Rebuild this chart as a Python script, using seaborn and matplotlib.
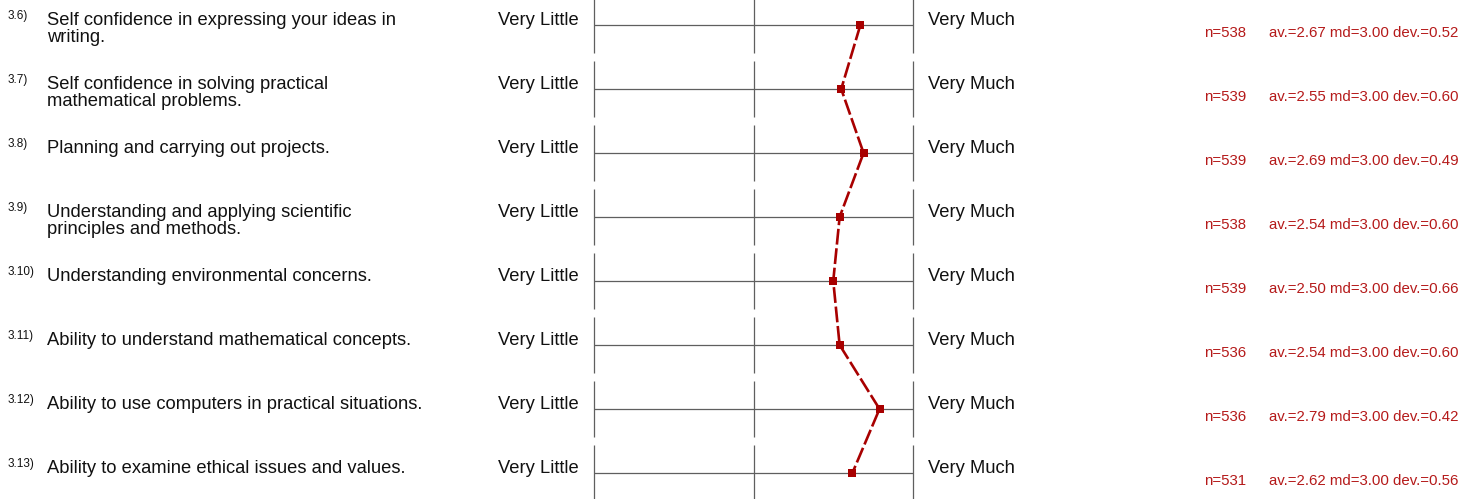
import numpy as np
import pandas as pd
import matplotlib
matplotlib.use("Agg")
import matplotlib.pyplot as plt
import matplotlib.transforms as mtransforms
import seaborn as sns

# survey items (profile line)
item_nums = ["3.6)", "3.7)", "3.8)", "3.9)", "3.10)", "3.11)", "3.12)", "3.13)"]
item_texts = [
    "Self confidence in expressing your ideas in\nwriting.",
    "Self confidence in solving practical\nmathematical problems.",
    "Planning and carrying out projects.",
    "Understanding and applying scientific\nprinciples and methods.",
    "Understanding environmental concerns.",
    "Ability to understand mathematical concepts.",
    "Ability to use computers in practical situations.",
    "Ability to examine ethical issues and values.",
]
n_resp = [538, 539, 539, 538, 539, 536, 536, 531]
averages = [2.67, 2.55, 2.69, 2.54, 2.50, 2.54, 2.79, 2.62]
medians = [3.00, 3.00, 3.00, 3.00, 3.00, 3.00, 3.00, 3.00]
devs = [0.52, 0.60, 0.49, 0.60, 0.66, 0.60, 0.42, 0.56]
left_pole = "Very Little"
right_pole = "Very Much"
scale_pts = [1, 2, 3]

df = pd.DataFrame({"row": np.arange(len(averages)), "av": averages})

sns.set_style("white")
plt.rcParams["font.family"] = ["Liberation Sans", "DejaVu Sans"]

W, H = 1474, 499
fig = plt.figure(figsize=(W / 100, H / 100), dpi=100)
# axes spans only the scale area (x = 1..3), full height
ax = fig.add_axes([594 / W, 0, (913 - 594) / W, 1])

grey = "#5f5f5f"
red = "#a80000"
txt_red = "#b51a1a"

for i in df["row"]:
    ax.hlines(i, scale_pts[0], scale_pts[-1], color=grey, lw=0.9, clip_on=False)
    ax.vlines(scale_pts, i - 0.43, i + 0.43, color=grey, lw=0.9, clip_on=False)

sns.lineplot(data=df, x="av", y="row", sort=False, estimator=None, ax=ax,
             color=red, lw=1.9, marker="s", markersize=6, markeredgewidth=0,
             clip_on=False)
for ln in ax.get_lines():
    ln.set_dashes((6, 1.4))

ax.set_xlim(scale_pts[0], scale_pts[-1])
ax.set_ylim((H - 25) / 64, -25 / 64)
ax.axis("off")

tr = mtransforms.blended_transform_factory(fig.transFigure, ax.transData)
for i in range(len(item_texts)):
    ax.text(8 / W, i - 0.23, item_nums[i], transform=tr, fontsize=8.5,
            va="top", ha="left", color="#111111")
    ax.text(47 / W, i - 0.21, item_texts[i], transform=tr, fontsize=13.2,
            va="top", ha="left", linespacing=1.05, color="#111111")
    ax.text(579 / W, i - 0.21, left_pole, transform=tr, fontsize=13.2,
            va="top", ha="right", color="#111111")
    ax.text(928 / W, i - 0.21, right_pole, transform=tr, fontsize=13.2,
            va="top", ha="left", color="#111111")
    ax.text(1204 / W, i + 0.19, f"n={n_resp[i]}", transform=tr, fontsize=10.8,
            va="baseline", ha="left", color=txt_red)
    ax.text(1269 / W, i + 0.19,
            f"av.={averages[i]:.2f} md={medians[i]:.2f} dev.={devs[i]:.2f}",
            transform=tr, fontsize=10.8, va="baseline", ha="left", color=txt_red)

fig.savefig("out.png", dpi=100, facecolor="white")
